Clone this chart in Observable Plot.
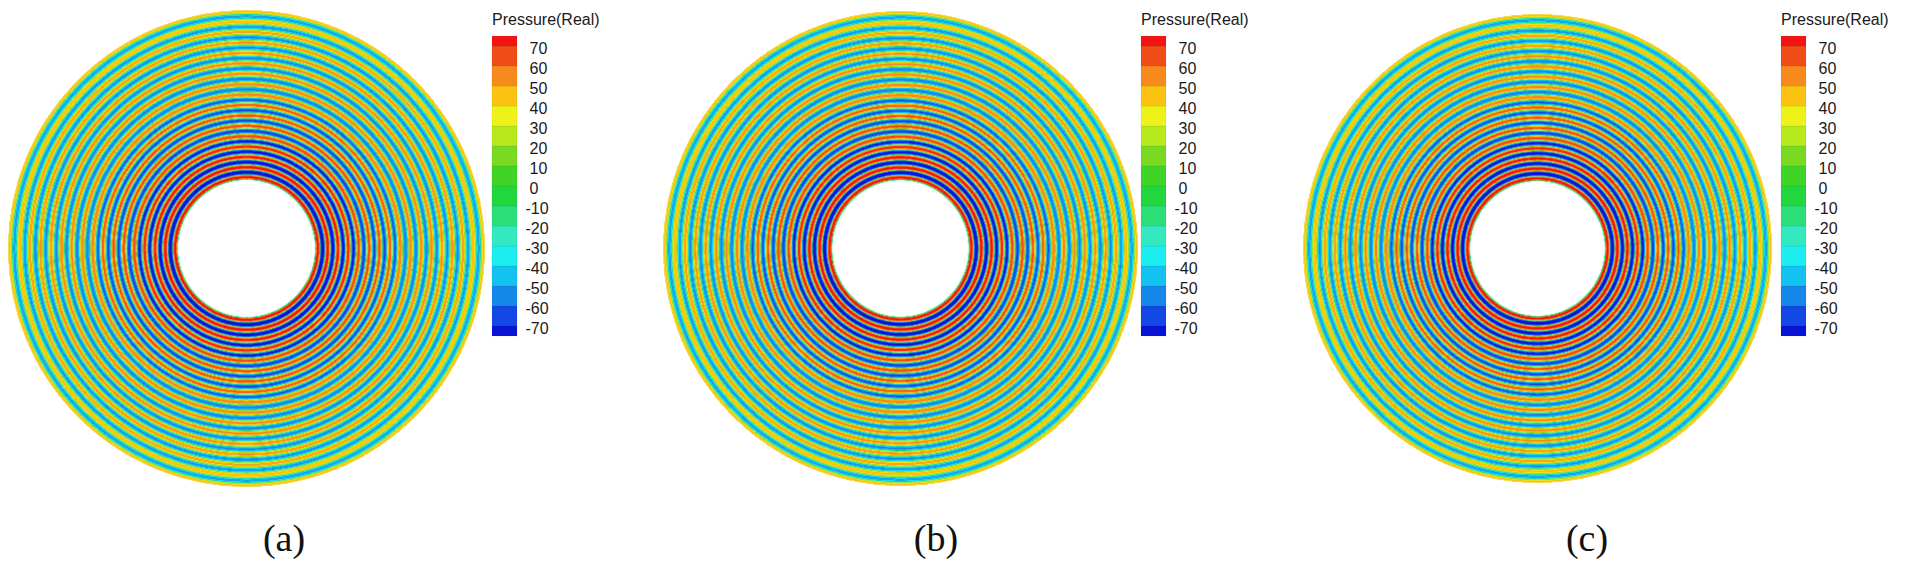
<!DOCTYPE html>
<html><head><meta charset="utf-8">
<script src="https://cdn.jsdelivr.net/npm/d3@7"></script>
<script src="https://cdn.jsdelivr.net/npm/@observablehq/plot@0.6"></script>
<style>
html,body{margin:0;padding:0;background:#fff;}
#root{position:relative;width:1905px;height:561px;overflow:hidden;background:#fff;}
.abs{position:absolute;}
.ltitle{font-family:"Liberation Sans",Arial,sans-serif;font-size:16px;line-height:18px;color:#1a1a1a;white-space:nowrap;}
.plabel{font-family:"Liberation Serif","Times New Roman",serif;font-size:38px;line-height:38px;color:#111;white-space:nowrap;transform:translateX(-50%);}
.map{filter:blur(0.6px);}
</style></head><body><div id="root"></div>
<script>
// ---- data ----
const levels = [-70, -60, -50, -40, -30, -20, -10, 0, 10, 20, 30, 40, 50, 60, 70];
const tickLabels = ["-70", "-60", "-50", "-40", "-30", "-20", "-10", "0", "10", "20", "30", "40", "50", "60", "70"];
const bandColors = ["#0a14d4", "#1448e4", "#1688ea", "#14c2f2", "#1ceef0", "#34e8c0", "#2cde78", "#22d63e",
                    "#40d426", "#7ada22", "#b6e81c", "#eef218", "#fcc212", "#f78a1c", "#f04c18", "#f21414"];
const panelNames = ["(a)", "(b)", "(c)"];
const legendTitle = "Pressure(Real)";
const innerRadius = 20;   // cm
const outerRadius = 70;   // cm
// radial profile: radius (cm) of the hole edge, each crest / trough, and the outer edge
const extremaR = [20.0, 20.9, 22.4, 23.9, 25.4, 26.9, 28.45, 29.95, 31.5, 33.0, 34.55, 36.05, 37.6, 39.1, 40.65,
                  42.2, 43.7, 45.25, 46.8, 48.3, 49.85, 51.4, 52.9, 54.45, 56.0, 57.5, 59.05, 60.6, 62.1, 63.65,
                  65.2, 66.7, 68.25, 69.8, 70.0];
const extremaP = [-28, 84, -90, 80, -84, 76, -78, 72, -74, 69, -70, 66, -67, 64, -64, 62, -62, 60, -60, 58,
                  -58, 56, -56, 55, -55, 54, -54, 52, -53, 51, -52, 50, -51, 49, 47];

// ---- layout ----
const panels = [
  {cx: 246, cy: 248, R: 238, legendX: 492, labelX: 284},
  {cx: 900, cy: 248, R: 237, legendX: 1141, labelX: 936},
  {cx: 1537, cy: 248, R: 234, legendX: 1781, labelX: 1587}
];

// shape of each half-wave between two read extrema (rendering only)
function ease(t) {
  const c = Math.cos(Math.PI * t);
  return 0.5 - 0.5 * Math.sign(c) * Math.pow(Math.abs(c), 0.5);
}
function pressureAt(r) {
  if (!(r >= innerRadius && r <= outerRadius)) return NaN;
  let i = d3.bisectRight(extremaR, r) - 1;
  if (i >= extremaR.length - 1) i = extremaR.length - 2;
  if (i < 0) i = 0;
  const r0 = extremaR[i], r1 = extremaR[i + 1];
  const t = (r - r0) / (r1 - r0);
  const p0 = extremaP[i], p1 = extremaP[i + 1];
  return p0 + (p1 - p0) * ease(t);
}

const root = document.getElementById("root");
const colorScale = {type: "threshold", domain: levels, range: bandColors};

panels.forEach((p, k) => {
  const half = p.R + 6;
  const size = 2 * half;
  const pxPerCm = p.R / outerRadius;
  const h = half / pxPerCm;
  const map = Plot.plot({
    width: size, height: size, margin: 0,
    x: {domain: [-h, h], axis: null},
    y: {domain: [-h, h], axis: null},
    r: {type: "linear", domain: [0, h], range: [0, half]},
    color: colorScale,
    style: {background: "transparent"},
    marks: [
      Plot.raster({fill: (x, y) => pressureAt(Math.hypot(x, y)), x1: -h, x2: h, y1: -h, y2: h, pixelSize: 1}),
      Plot.dot([innerRadius], {x: 0, y: 0, r: d => d, fill: "none", stroke: "#fff", strokeWidth: 0.8}),
      Plot.dot([outerRadius], {x: 0, y: 0, r: d => d, fill: "none", stroke: "#f0d020", strokeWidth: 0.9, strokeOpacity: 0.7})
    ]
  });
  map.classList.add("map");
  map.style.position = "absolute";
  map.style.left = (p.cx - half) + "px";
  map.style.top = (p.cy - half) + "px";
  root.appendChild(map);

  // legend
  const lo = [-75, ...levels], hi = [...levels, 75];
  const bands = lo.map((v, i) => ({lo: v, hi: hi[i], mid: (v + hi[i]) / 2}));
  const ticks = levels.map((v, i) => ({v, label: tickLabels[i]}));
  const lw = 160, lh = 345, barW = 25;
  const leg = Plot.plot({
    width: lw, height: lh, marginLeft: 0, marginRight: lw - barW, marginTop: 36, marginBottom: lh - 336,
    x: {domain: [0, 1], axis: null},
    y: {domain: [-75, 75], axis: null},
    color: colorScale,
    style: {background: "transparent", overflow: "visible"},
    marks: [
      Plot.rect(bands, {x1: 0, x2: 1, y1: "lo", y2: "hi", fill: "mid", stroke: "#000", strokeOpacity: 0.08, strokeWidth: 0.7}),
      Plot.text(ticks.filter(d => d.v >= 0), {y: "v", text: "label", frameAnchor: "right", textAnchor: "start", dx: 12, dy: 2,
        fontSize: 16, fontFamily: "Liberation Sans, Arial, sans-serif", fill: "#1a1a1a"}),
      Plot.text(ticks.filter(d => d.v < 0), {y: "v", text: "label", frameAnchor: "right", textAnchor: "start", dx: 8, dy: 2,
        fontSize: 16, fontFamily: "Liberation Sans, Arial, sans-serif", fill: "#1a1a1a"})
    ]
  });
  leg.style.position = "absolute";
  leg.style.left = p.legendX + "px";
  leg.style.top = "0px";
  root.appendChild(leg);

  const t = document.createElement("div");
  t.className = "abs ltitle";
  t.style.left = p.legendX + "px";
  t.style.top = "11px";
  t.textContent = legendTitle;
  root.appendChild(t);

  const lab = document.createElement("div");
  lab.className = "abs plabel";
  lab.style.left = p.labelX + "px";
  lab.style.top = "519px";
  lab.textContent = panelNames[k];
  root.appendChild(lab);
});
</script>
</body></html>
